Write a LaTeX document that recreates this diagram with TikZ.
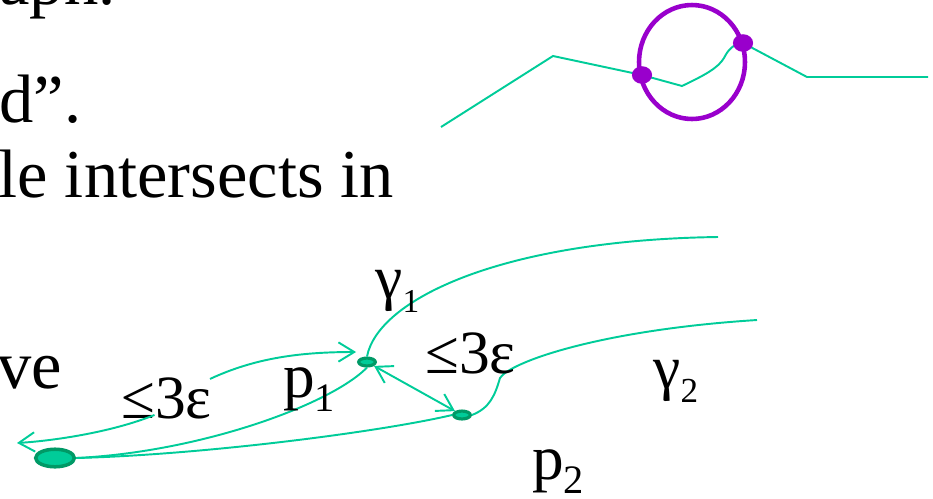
\documentclass[tikz,border=0pt]{standalone}
\usepackage{fontspec}
\setmainfont{Liberation Serif}
\usetikzlibrary{positioning, arrows.meta, shapes, calc}
\definecolor{pathgreen}{RGB}{0,204,153}
\definecolor{dotgreen}{RGB}{0,153,102}
\definecolor{loopviolet}{RGB}{153,0,204}
\newcommand{\lowsub}[2]{\raisebox{-8.5pt}{\fontsize{#1}{#1}\selectfont #2}}

\begin{document}
\begin{tikzpicture}[x=0.02cm, y=-0.02cm,
  gline/.style={draw=pathgreen, line width=1.1pt},
  barb/.style={-{Straight Barb[length=9pt, width=11pt]}},
  gdot/.style={ellipse, draw=dotgreen, fill=pathgreen, inner sep=0pt},
  vdot/.style={ellipse, fill=loopviolet, inner sep=0pt, minimum width=11.5pt, minimum height=10pt},
  body/.style={anchor=base west, inner sep=0pt, font=\fontsize{39}{42}\selectfont},
  lab/.style={anchor=base west, inner sep=0pt, font=\fontsize{35}{38}\selectfont},
  plab/.style={anchor=base west, inner sep=0pt, font=\fontsize{36}{40}\selectfont}]
\useasboundingbox (0,0) rectangle (933,498);

\node[body] (t1) at (-1,4) {aph.};
\node[body] (t2) at (-1,122) {d”.};
\node[body] (t3) at (-2,197) {le intersects in};
\node[body] (t4) at (-3,388) {ve};

\coordinate (cross1) at (642,75);
\coordinate (cross2) at (743,43);
\node[draw=loopviolet, line width=2.6pt, ellipse, minimum width=2.12cm, minimum height=2.28cm] (loop) at (692,62) {};
\draw[gline] (441,127) -- (553,56) -- (cross1) -- (682,86) .. controls (705,75) and (718,68) .. (724,58)
  .. controls (728,50) and (733,44) .. (cross2) -- (807,77) -- (928,77);
\node[vdot] (v1) at (cross1) {};
\node[vdot] (v2) at (cross2) {};

\node[gdot, line width=2pt, minimum width=22pt, minimum height=10pt] (start) at (55,458) {};
\node[gdot, line width=1.8pt, minimum width=9.5pt, minimum height=4.5pt] (pa) at (367,362) {};
\node[gdot, line width=1.8pt, minimum width=9.5pt, minimum height=4.5pt] (pb) at (462,415) {};
\coordinate (g1end) at (718,237);
\coordinate (g2end) at (757,320);

\draw[gline] (start.east) .. controls (200,452) and (330,405) .. (pa.south);
\draw[gline] (start.east) .. controls (200,455) and (380,432) .. (pb.west);
\draw[gline] (pa.north) .. controls (378,300) and (500,240) .. (g1end);
\draw[gline] (pb.east) .. controls (490,408) and (495,395) .. (500,378)
  .. controls (510,362) and (600,330) .. (g2end);
\draw[gline, {Straight Barb[length=9pt, width=11pt]}-{Straight Barb[length=9pt, width=11pt]}] (pa) -- (pb);

\node[lab] (le1) at (121,418) {≤3ε};
\node[lab] (le2) at (425,373) {≤3ε};
\coordinate (tipL) at (17,443);
\draw[gline, barb] ($(le1.south)+(-12,-4)$) .. controls (110,433) and (50,441) .. (tipL);
\draw[gline, barb] ($(le1.north east)+(-2,2)$) .. controls (255,358) and (300,352) .. ($(pa.west)+(-1,-10)$);

\node[lab] (g1) at (375,298) {γ\lowsub{19}{1}};
\node[lab] (g2) at (653,388) {γ\lowsub{20}{2}};
\node[plab] (p1) at (283,397) {p\lowsub{23}{1}};
\node[plab] (p2) at (532,479) {p\lowsub{23}{2}};
\end{tikzpicture}
\end{document}
